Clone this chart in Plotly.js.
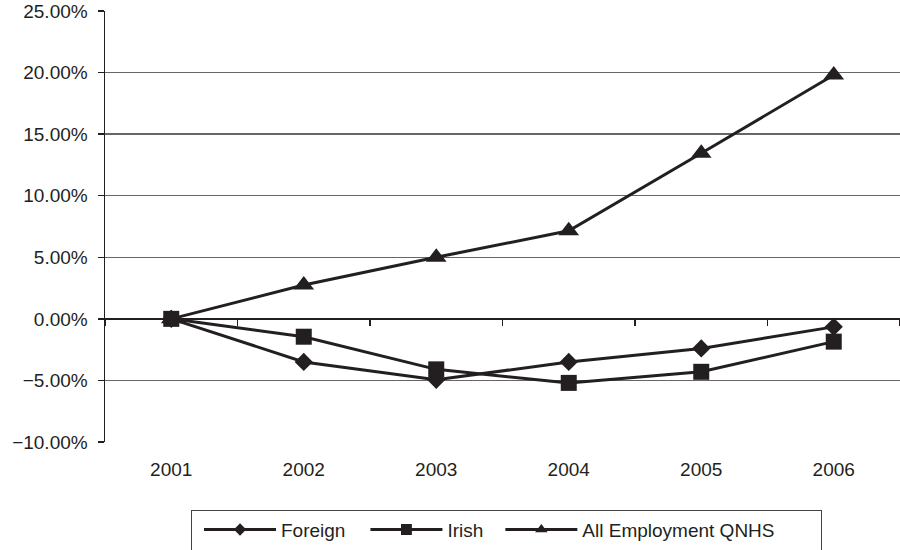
<!DOCTYPE html>
<html>
<head>
<meta charset="utf-8">
<script src="https://cdn.plot.ly/plotly-3.0.1.min.js"></script>
<style>html,body{margin:0;padding:0;background:#fff}#chart{width:900px;height:550px}</style>
</head>
<body>
<div id="chart"></div>
<script>
var years = ['2001', '2002', '2003', '2004', '2005', '2006'];
var foreign = [0, -3.5, -4.95, -3.5, -2.4, -0.65];
var irish = [0, -1.45, -4.1, -5.2, -4.3, -1.85];
var allEmployment = [0, 2.75, 5.0, 7.15, 13.45, 19.8];
var yTicks = [-10, -5, 0, 5, 10, 15, 20, 25];
var yTickText = yTicks.map(function (v) {
  return (v < 0 ? '\u2212' : '') + Math.abs(v).toFixed(2) + '%';
});

var ink = '#231f20';
function series(name, vals, symbol, size) {
  return {
    type: 'scatter', mode: 'lines+markers', name: name,
    x: years, y: vals,
    line: {color: ink, width: 3},
    marker: {symbol: symbol, size: size, color: ink}
  };
}
var data = [
  series('Foreign', foreign, 'diamond', 14),
  series('Irish', irish, 'square', 16),
  series('All Employment QNHS', allEmployment, 'triangle-up', 18),
  {type: 'scatter', mode: 'markers', x: years, y: years.map(function(){return null;}),
   xaxis: 'x2', showlegend: false, hoverinfo: 'skip', marker: {opacity: 0}}
];

var yMin = -10, yMax = 25;
var layout = {
  width: 900, height: 550,
  margin: {l: 105, r: 0, t: 11, b: 106},
  paper_bgcolor: '#fff', plot_bgcolor: '#fff',
  font: {family: 'Liberation Sans, Arial, sans-serif', size: 18, color: ink},
  showlegend: true,
  legend: {
    orientation: 'h', x: 0.1082, xanchor: 'left', y: -0.157, yanchor: 'top',
    bordercolor: '#444', borderwidth: 1, bgcolor: '#fff',
    font: {size: 19, color: ink}, itemwidth: 79
  },
  xaxis: {
    type: 'category', categoryorder: 'array', categoryarray: years,
    range: [-0.5, 5.5], showgrid: false, zeroline: false, showline: false,
    ticks: '', ticklabelstandoff: 14, tickfont: {size: 19, color: ink}, fixedrange: true
  },
  xaxis2: {
    type: 'category', categoryorder: 'array', categoryarray: years,
    overlaying: 'x', anchor: 'free', position: (0 - yMin) / (yMax - yMin),
    range: [-0.5, 5.5], showgrid: false, zeroline: false, showline: false,
    ticks: 'outside', tickson: 'boundaries', ticklen: 6, tickwidth: 1.5, tickcolor: ink,
    showticklabels: false
  },
  yaxis: {
    range: [yMin, yMax], tickmode: 'array', tickvals: yTicks, ticktext: yTickText,
    showgrid: true, gridcolor: '#666', gridwidth: 1.5,
    zeroline: true, zerolinecolor: ink, zerolinewidth: 1.5,
    showline: true, linecolor: ink, linewidth: 1.5,
    ticks: 'outside', ticklen: 6, tickwidth: 1.5, tickcolor: ink,
    ticklabelstandoff: 6,
    tickfont: {size: 19, color: ink}, fixedrange: true
  }
};
Plotly.newPlot('chart', data, layout, {displayModeBar: false, staticPlot: true}).then(function (gd) {
  try {
    var leg = gd.querySelector('.legend');
    if (!leg) return;
    // longer legend key lines, smaller key markers (as in the reference)
    leg.querySelectorAll('.legendlines path').forEach(function (p) { p.setAttribute('d', 'M12,0h72'); });
    leg.querySelectorAll('.legendpoints path').forEach(function (p) {
      p.setAttribute('transform', 'translate(48,0) scale(0.68)');
    });
    // slightly wider spacing between entries
    var extra = [0, 8, 13];
    leg.querySelectorAll('.traces').forEach(function (t, i) {
      var tr = t.getAttribute('transform') || '';
      var m = /translate\(\s*([-\d.e]+)[\s,]*([-\d.e]+)?\s*\)/.exec(tr);
      if (!m) return;
      var x = parseFloat(m[1]) + (extra[i] || 0), y = parseFloat(m[2] || 0);
      t.setAttribute('transform', 'translate(' + x + ',' + y + ')');
    });
    var W = 630, H = 46;
    var bg = leg.querySelector('rect.bg');
    if (bg) { bg.setAttribute('width', W); bg.setAttribute('height', H); }
    gd.querySelectorAll('clipPath[id^="legend"] rect').forEach(function (r) {
      r.setAttribute('width', W); r.setAttribute('height', H);
    });
  } catch (e) {}
});
</script>
</body>
</html>
